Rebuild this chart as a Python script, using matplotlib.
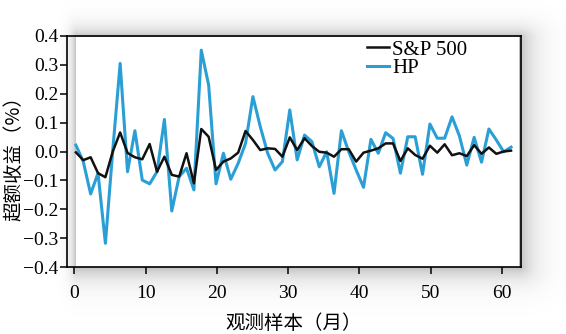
import matplotlib
matplotlib.use("Agg")
import matplotlib.pyplot as plt
import numpy as np

sp500 = [-0.003, -0.030, -0.020, -0.075, -0.089, 0.000, 0.066, -0.005, -0.020, -0.027,
         0.026, -0.070, -0.018, -0.081, -0.087, -0.006, -0.110, 0.078, 0.051, -0.064,
         -0.035, -0.024, -0.004, 0.071, 0.040, 0.005, 0.011, 0.009, -0.018, 0.049,
         0.005, 0.046, 0.019, -0.001, -0.004, -0.018, 0.008, 0.008, -0.035, -0.004,
         0.003, 0.011, 0.028, 0.028, -0.033, 0.011, -0.012, -0.025, 0.020, -0.004,
         0.025, -0.013, -0.006, -0.016, 0.022, -0.008, 0.014, -0.008, 0.000, 0.003]
hp = [0.022, -0.035, -0.147, -0.075, -0.318, 0.005, 0.305, -0.070, 0.072, -0.099,
      -0.112, -0.070, 0.111, -0.206, -0.087, -0.058, -0.133, 0.351, 0.230, -0.112,
      -0.006, -0.096, -0.041, 0.028, 0.190, 0.086, -0.006, -0.064, -0.035, 0.144,
      -0.029, 0.057, 0.034, -0.053, -0.001, -0.145, 0.072, -0.001, -0.064, -0.124,
      0.042, -0.006, 0.065, 0.045, -0.075, 0.051, 0.051, -0.079, 0.095, 0.046,
      0.046, 0.120, 0.054, -0.047, 0.049, -0.037, 0.078, 0.040, -0.001, 0.015]
months = np.linspace(0.2, 61.3, len(hp))
xticks = [0, 10, 20, 30, 40, 50, 60]
yticks = [-0.4, -0.3, -0.2, -0.1, 0.0, 0.1, 0.2, 0.3, 0.4]

W, H = 566, 334
fig = plt.figure(figsize=(W / 100, H / 100), dpi=100)

# soft grey shadow behind the plot panel
bg = fig.add_axes([0, 0, 1, 1], zorder=0)
yy, xx = np.mgrid[0:H, 0:W]
x0, x1, y0, y1 = 76, 518, 37, 266
dl = np.clip(x0 - xx, 0, None) / 5.0
dr = np.clip(xx - x1, 0, None) / 14.0
dt = np.clip(y0 - yy, 0, None) / 9.0
db = np.clip(yy - y1, 0, None) / 12.0
d = np.sqrt(dl**2 + dr**2 + dt**2 + db**2)
inside = (xx >= x0) & (xx <= x1) & (yy >= y0) & (yy <= y1)
shade = np.where(inside, 1.0, 1 - 0.27 * np.exp(-d))
bg.imshow(shade, cmap="gray", vmin=0, vmax=1, extent=(0, W, H, 0), aspect="auto")
bg.set_xlim(0, W)
bg.set_ylim(H, 0)
bg.axis("off")

ax = fig.add_axes([67 / W, 1 - 267 / H, (521 - 67) / W, (267 - 36) / H], zorder=1)
ax.set_facecolor("none")

ax.plot(months, hp, color="#2a9fd6", lw=2.2, zorder=2, label="HP")
ax.plot(months, sp500, color="#111111", lw=1.8, zorder=3, label="S&P 500")

ax.set_xlim(-1.05, 62.7)
ax.set_ylim(-0.4, 0.4)
ax.set_xticks(xticks)
ax.set_yticks(yticks)
ax.set_yticklabels([f"{v:.1f}".replace("-", "\u2212") for v in yticks])
for lab in ax.get_xticklabels() + ax.get_yticklabels():
    lab.set_family("Liberation Serif")
    lab.set_fontsize(14)
ax.tick_params(direction="out", length=5, width=1.1)
ax.tick_params(axis="x", pad=8)
ax.tick_params(axis="y", pad=1.0)
for s in ax.spines.values():
    s.set_linewidth(1.2)

h, l = ax.get_legend_handles_labels()
ax.legend(h[::-1], l[::-1], loc="upper left", bbox_to_anchor=(0.661, 0.982),
          frameon=False, prop={"family": "Liberation Serif", "size": 15},
          handlelength=1.05, handletextpad=0.15, labelspacing=-0.05,
          borderpad=0, borderaxespad=0)

ax.set_xlabel("观测样本（月）", family=["Noto Sans CJK SC", "DejaVu Sans"], fontsize=14)
ax.set_ylabel("超额收益（%）", family=["Noto Sans CJK SC", "DejaVu Sans"], fontsize=14)
ax.xaxis.set_label_coords(0.499, -0.197)
ax.yaxis.set_label_coords(-0.093, 0.49)

fig.savefig("out.png", dpi=100)
